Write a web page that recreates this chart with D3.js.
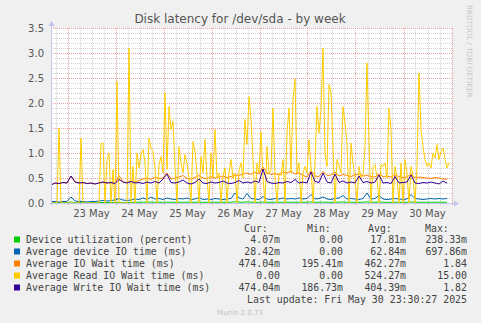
<!DOCTYPE html>
<head>
    <script src="https://d3js.org/d3.v7.min.js"></script>
    <style>
        body { margin: 0; background: #f0f0f0; }
        svg { display: block; }
    </style>
</head>
<body>
    <script id="chart">
        // start of the series (UTC); yellow is sampled every hour, the others every 2 hours
        const startTime = "2025-05-22T15:45:00Z";
        const endTime = "2025-05-31T00:15:00Z";

        // Average Read IO Wait time (ms), hourly
        const readWait = [
            0, 0, 0, 0, 1.50, 0, 0, 0, 0, 0,
            0, 0, 0, 0, 0, 1.30, 0, 0, 0, 0,
            0, 0, 0, 0, 0, 1.19, 1.20, 0, 0.87, 1.00,
            0, 0.67, 0, 2.43, 0, 0, 0, 0, 0, 3.10,
            0, 0.73, 0, 1.00, 0.70, 0.97, 1.07, 0.80, 0, 1.30,
            1.10, 1.03, 0.70, 0, 0.77, 0.93, 0.60, 2.20, 0.67, 1.93,
            1.47, 1.63, 0.73, 0, 1.13, 0.80, 0.60, 0.97, 0.80, 0.50,
            0, 1.23, 1.03, 0.60, 0, 0.93, 0.60, 1.27, 0.50, 0,
            1.00, 0.50, 1.47, 0.50, 0.60, 0, 0.55, 0.70, 0, 0.60,
            0.87, 0.50, 0.60, 0, 0.65, 0.80, 0.50, 1.67, 1.17, 2.13,
            1.67, 0.87, 0, 0.80, 0.60, 1.43, 0.50, 0, 1.13, 0.60,
            0.65, 1.90, 0.50, 0, 0.60, 0.55, 0.87, 0, 1.40, 1.90,
            0.60, 2.07, 2.48, 0.60, 0.80, 0, 0.60, 0.73, 0.60, 1.27,
            0.73, 0, 0.80, 1.93, 1.40, 1.87, 3.10, 1.00, 0.73, 2.37,
            2.20, 1.13, 0, 0.87, 0.73, 0.60, 1.93, 1.60, 1.20, 0,
            1.20, 0.80, 0.50, 0, 0.73, 0.50, 0.55, 1.13, 2.80, 1.20,
            0, 0.73, 0.77, 0.50, 0, 0.77, 0.73, 0.80, 0.50, 1.90,
            1.47, 0, 0.73, 0.50, 0, 0.80, 0, 0.87, 0.60, 0,
            0.73, 0.55, 0, 0.73, 2.60, 1.47, 1.13, 0.87, 0.73, 0.80,
            0.70, 1.00, 0.90, 1.17, 0.87, 1.03, 1.10, 0.87, 0.70, 0.80
        ];

        // Average Write IO Wait time (ms), every 2 hours
        const writeWait = [
            0.36, 0.40, 0.39, 0.41, 0.40, 0.54, 0.42, 0.40, 0.41, 0.39,
            0.40, 0.38, 0.40, 0.42, 0.40, 0.41, 0.39, 0.47, 0.42, 0.40,
            0.43, 0.40, 0.41, 0.39, 0.42, 0.40, 0.43, 0.40, 0.48, 0.58,
            0.41, 0.40, 0.42, 0.46, 0.40, 0.38, 0.41, 0.48, 0.40, 0.39,
            0.42, 0.40, 0.41, 0.44, 0.40, 0.39, 0.41, 0.45, 0.40, 0.42,
            0.40, 0.44, 0.41, 0.68, 0.43, 0.40, 0.39, 0.41, 0.40, 0.43,
            0.41, 0.47, 0.40, 0.42, 0.40, 0.62, 0.43, 0.41, 0.60, 0.42,
            0.40, 0.58, 0.41, 0.44, 0.40, 0.42, 0.40, 0.54, 0.41, 0.43,
            0.40, 0.42, 0.56, 0.40, 0.41, 0.39, 0.53, 0.40, 0.41, 0.42,
            0.56, 0.40, 0.39, 0.41, 0.40, 0.42, 0.40, 0.38, 0.44, 0.40
        ];

        // Average IO Wait time (ms), every 2 hours
        const ioWait = [
            0.36, 0.40, 0.39, 0.41, 0.40, 0.54, 0.42, 0.40, 0.41, 0.39,
            0.40, 0.38, 0.40, 0.42, 0.40, 0.41, 0.39, 0.55, 0.42, 0.41,
            0.44, 0.42, 0.45, 0.48, 0.50, 0.47, 0.52, 0.49, 0.50, 0.60,
            0.48, 0.50, 0.52, 0.55, 0.49, 0.48, 0.51, 0.55, 0.50, 0.49,
            0.53, 0.50, 0.52, 0.54, 0.51, 0.53, 0.56, 0.55, 0.58, 0.60,
            0.57, 0.62, 0.58, 0.72, 0.60, 0.57, 0.59, 0.56, 0.62, 0.60,
            0.64, 0.58, 0.60, 0.55, 0.52, 0.65, 0.54, 0.53, 0.63, 0.55,
            0.56, 0.62, 0.54, 0.57, 0.55, 0.53, 0.56, 0.58, 0.54, 0.55,
            0.53, 0.52, 0.58, 0.53, 0.54, 0.52, 0.56, 0.53, 0.51, 0.52,
            0.58, 0.50, 0.52, 0.51, 0.50, 0.49, 0.51, 0.50, 0.48, 0.47
        ];

        // Average device IO time (ms), every 2 hours
        const deviceIo = [
            0.03, 0.03, 0.02, 0.03, 0.03, 0.12, 0.04, 0.03, 0.03, 0.02,
            0.03, 0.03, 0.04, 0.05, 0.04, 0.05, 0.06, 0.09, 0.06, 0.05,
            0.06, 0.08, 0.07, 0.10, 0.07, 0.12, 0.08, 0.09, 0.07, 0.10,
            0.08, 0.07, 0.09, 0.08, 0.10, 0.07, 0.08, 0.11, 0.07, 0.08,
            0.07, 0.09, 0.08, 0.07, 0.08, 0.09, 0.20, 0.10, 0.08, 0.19,
            0.09, 0.08, 0.07, 0.13, 0.08, 0.07, 0.09, 0.08, 0.10, 0.08,
            0.09, 0.08, 0.10, 0.08, 0.09, 0.17, 0.08, 0.09, 0.12, 0.08,
            0.07, 0.09, 0.10, 0.15, 0.08, 0.09, 0.08, 0.07, 0.09, 0.20,
            0.08, 0.09, 0.15, 0.08, 0.07, 0.08, 0.09, 0.08, 0.07, 0.08,
            0.17, 0.09, 0.08, 0.07, 0.08, 0.09, 0.08, 0.09, 0.08, 0.09
        ];

        // Device utilization (percent), every 2 hours
        const utilization = [
            0.005, 0.005, 0.004, 0.005, 0.006, 0.02, 0.006, 0.005, 0.005, 0.004,
            0.005, 0.006, 0.008, 0.010, 0.008, 0.010, 0.012, 0.015, 0.012, 0.010,
            0.012, 0.015, 0.014, 0.018, 0.014, 0.020, 0.015, 0.016, 0.014, 0.018,
            0.015, 0.014, 0.016, 0.015, 0.018, 0.014, 0.015, 0.019, 0.014, 0.015,
            0.014, 0.016, 0.015, 0.014, 0.015, 0.016, 0.025, 0.017, 0.015, 0.024,
            0.016, 0.015, 0.014, 0.020, 0.015, 0.014, 0.016, 0.015, 0.017, 0.015,
            0.016, 0.015, 0.017, 0.015, 0.016, 0.022, 0.015, 0.016, 0.019, 0.015,
            0.014, 0.016, 0.017, 0.021, 0.015, 0.016, 0.015, 0.014, 0.016, 0.024,
            0.015, 0.016, 0.020, 0.015, 0.014, 0.015, 0.016, 0.015, 0.014, 0.015,
            0.022, 0.016, 0.015, 0.014, 0.015, 0.016, 0.015, 0.016, 0.015, 0.016
        ];

        const yTicks = [0, 0.5, 1.0, 1.5, 2.0, 2.5, 3.0, 3.5];

        // legend table
        const names = [
            "Device utilization (percent)",
            "Average device IO time (ms)",
            "Average IO Wait time (ms)",
            "Average Read IO Wait time (ms)",
            "Average Write IO Wait time (ms)"
        ];
        const colors = ["#00cc00", "#0066b3", "#ff8000", "#ffcc00", "#330099"];
        const curVals = ["4.07m", "28.42m", "474.04m", "0.00 ", "474.04m"];
        const minVals = ["0.00 ", "0.00 ", "195.41m", "0.00 ", "186.73m"];
        const avgVals = ["17.81m", "62.84m", "462.27m", "524.27m", "404.39m"];
        const maxVals = ["238.33m", "697.86m", "1.84 ", "15.00 ", "1.82 "];

        const W = 481, H = 323;
        const svg = d3.select("body")
            .append("svg")
            .attr("width", W)
            .attr("height", H);
        const margin = { top: 28, bottom: 120, left: 51, right: 29 };
        const width = W - margin.left - margin.right;
        const height = H - margin.top - margin.bottom;

        svg.append("rect").attr("width", W).attr("height", H).attr("fill", "#f0f0f0");

        const t0 = new Date(startTime);
        const hour = 3600 * 1000;

        // scales
        const xScale = d3.scaleUtc()
            .domain([t0, new Date(endTime)])
            .range([margin.left, margin.left + width]);
        const yScale = d3.scaleLinear()
            .domain([0, 3.5])
            .range([margin.top + height, margin.top]);

        const plot = svg.append("g");
        plot.append("rect")
            .attr("x", margin.left).attr("y", margin.top)
            .attr("width", width).attr("height", height)
            .attr("fill", "#ffffff");

        const px = v => Math.round(v) + 0.5;

        // minor grid
        const minorY = d3.range(0, 36).map(d => d / 10).filter(d => d % 0.5 > 0.01 && 0.5 - d % 0.5 > 0.01);
        plot.selectAll(".minorY").data(minorY).join("line")
            .attr("x1", margin.left).attr("x2", margin.left + width)
            .attr("y1", d => px(yScale(d))).attr("y2", d => px(yScale(d)))
            .attr("stroke", "#d0d0d0").attr("stroke-dasharray", "1,1");
        const sixHours = d3.utcHour.every(6).range(xScale.domain()[0], xScale.domain()[1])
            .filter(d => d.getUTCHours() !== 0);
        plot.selectAll(".minorX").data(sixHours).join("line")
            .attr("x1", d => px(xScale(d))).attr("x2", d => px(xScale(d)))
            .attr("y1", margin.top).attr("y2", margin.top + height + 2)
            .attr("stroke", "#d0d0d0").attr("stroke-dasharray", "1,1");

        // major grid
        plot.selectAll(".majorY").data(yTicks.slice(1)).join("line")
            .attr("x1", margin.left).attr("x2", margin.left + width)
            .attr("y1", d => px(yScale(d))).attr("y2", d => px(yScale(d)))
            .attr("stroke", "#e8a0a0").attr("stroke-dasharray", "1,1");
        const days = d3.utcDay.range(xScale.domain()[0], xScale.domain()[1]);
        plot.selectAll(".majorX").data(days).join("line")
            .attr("x1", d => px(xScale(d))).attr("x2", d => px(xScale(d)))
            .attr("y1", margin.top).attr("y2", margin.top + height + 3)
            .attr("stroke", "#e8a0a0").attr("stroke-dasharray", "1,1");

        // series, drawn in munin order
        const series = [utilization, deviceIo, ioWait, readWait, writeWait];
        const steps = [2, 2, 2, 1, 2];
        series.forEach((vals, k) => {
            const line = d3.line()
                .x((d, i) => xScale(new Date(t0.getTime() + i * steps[k] * hour)))
                .y(d => yScale(d));
            plot.append("path")
                .datum(vals)
                .attr("fill", "none")
                .attr("stroke", colors[k])
                .attr("stroke-width", 1)
                .attr("stroke-linejoin", "miter")
                .attr("d", line);
        });

        // axes lines with arrows
        const axisColor = "#c4c4f0";
        const x0 = px(margin.left), y0 = px(yScale(0));
        svg.append("line").attr("x1", x0).attr("x2", x0)
            .attr("y1", y0 + 2).attr("y2", margin.top - 5).attr("stroke", axisColor);
        svg.append("path")
            .attr("d", `M${x0 - 3},${margin.top - 2} L${x0},${margin.top - 7} L${x0 + 3},${margin.top - 2} Z`)
            .attr("fill", axisColor);
        svg.append("line").attr("x1", x0 - 2).attr("x2", margin.left + width + 4)
            .attr("y1", y0).attr("y2", y0).attr("stroke", axisColor);
        svg.append("path")
            .attr("d", `M${margin.left + width + 2},${y0 - 3} L${margin.left + width + 7},${y0} L${margin.left + width + 2},${y0 + 3} Z`)
            .attr("fill", axisColor);

        // y labels
        svg.selectAll(".ylab").data(yTicks).join("text")
            .attr("x", 44)
            .attr("y", d => yScale(d))
            .attr("dy", "0.35em")
            .attr("text-anchor", "end")
            .attr("font-family", "DejaVu Sans")
            .attr("font-size", 10)
            .attr("fill", "#555")
            .text(d => d.toFixed(1));

        // x labels at noon
        const noons = days.map(d => d3.utcHour.offset(d, 12))
            .filter(d => d < xScale.domain()[1]);
        svg.selectAll(".xlab").data(noons).join("text")
            .attr("x", d => xScale(d))
            .attr("y", 213)
            .attr("dy", "0.35em")
            .attr("text-anchor", "middle")
            .attr("font-family", "DejaVu Sans")
            .attr("font-size", 10)
            .attr("fill", "#555")
            .text(d => d3.utcFormat("%d %b")(d));

        // title
        svg.append("text")
            .attr("x", 240).attr("y", 19)
            .attr("dy", "0.35em")
            .attr("text-anchor", "middle")
            .attr("font-family", "DejaVu Sans")
            .attr("font-size", 12)
            .attr("fill", "#555")
            .text("Disk latency for /dev/sda - by week");

        // rrdtool credit
        svg.append("text")
            .attr("transform", "translate(470,5) rotate(90)")
            .attr("dy", "0.35em")
            .attr("font-family", "DejaVu Sans")
            .attr("font-size", 7.2)
            .attr("fill", "#c8c8c8")
            .text("RRDTOOL / TOBI OETIKER");

        // legend
        const mono = "DejaVu Sans Mono";
        const lg = svg.append("g")
            .attr("font-family", mono)
            .attr("font-size", 9.9)
            .attr("fill", "#444")
            .attr("xml:space", "preserve")
            .style("white-space", "pre");
        const headX = [244, 307, 368, 425];
        ["Cur:", "Min:", "Avg:", "Max:"].forEach((h, i) => {
            lg.append("text").attr("x", headX[i]).attr("y", 228.5).attr("dy", "0.35em").text(h);
        });
        const colRight = [280, 343, 406, 467];
        const cols = [curVals, minVals, avgVals, maxVals];
        names.forEach((n, r) => {
            const cy = 239.5 + r * 12;
            lg.append("rect").attr("x", 14).attr("y", cy - 3).attr("width", 6).attr("height", 6)
                .attr("fill", colors[r]);
            lg.append("text").attr("x", 26).attr("y", cy).attr("dy", "0.35em").text(n);
            cols.forEach((c, ci) => {
                lg.append("text").attr("x", colRight[ci]).attr("y", cy)
                    .attr("dy", "0.35em").attr("text-anchor", "end").text(c[r]);
            });
        });
        lg.append("text").attr("x", 467).attr("y", 299.5).attr("dy", "0.35em")
            .attr("text-anchor", "end").text("Last update: Fri May 30 23:30:27 2025");

        svg.append("text")
            .attr("x", 240).attr("y", 312.5)
            .attr("dy", "0.35em")
            .attr("text-anchor", "middle")
            .attr("font-family", "DejaVu Sans")
            .attr("font-size", 7)
            .attr("fill", "#c0c0c0")
            .text("Munin 2.0.73");
    </script>
</body>
